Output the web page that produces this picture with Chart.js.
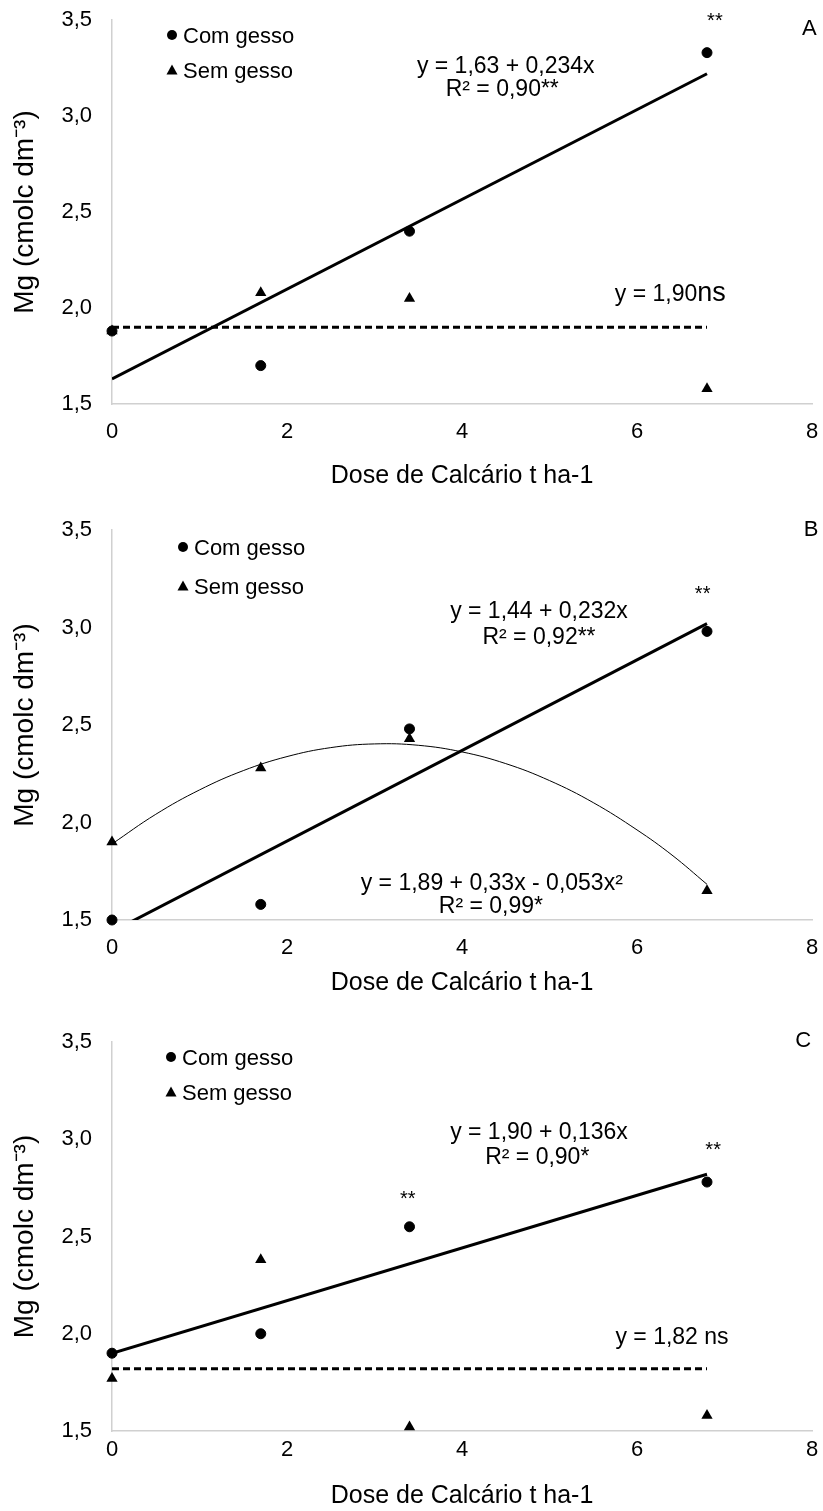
<!DOCTYPE html>
<html><head><meta charset="utf-8">
<script src="https://cdn.jsdelivr.net/npm/chart.js@4.4.0/dist/chart.umd.min.js"></script>
<style>
html,body{margin:0;padding:0;background:#fff;}
body{width:823px;height:1511px;position:relative;overflow:hidden;}
canvas{position:absolute;left:0;}
</style></head><body>
<canvas id="cA" width="823" height="500" style="top:0px"></canvas>
<canvas id="cB" width="823" height="490" style="top:510px"></canvas>
<canvas id="cC" width="823" height="489" style="top:1022px"></canvas>
<script>
const FONT = '"Liberation Sans", Arial, sans-serif';
const doses = [0, 1.7, 3.4, 6.8];
const xTickLabels = ['0', '2', '4', '6', '8'];
const yTickLabels = ['1,5', '2,0', '2,5', '3,0', '3,5'];
const seriesNames = ['Com gesso', 'Sem gesso'];
const xTitle = 'Dose de Calcário t ha-1';
const yTitle = 'Mg (cmolc dm⁻³)';

// Panel A
const comA = [1.88, 1.70, 2.40, 3.33];
const semA = [1.88, 2.08, 2.05, 1.58];
const fitAx = [0, 6.8];
const fitAcom = [1.63, 3.22];
const fitAsem = [1.90, 1.90];

// Panel B
const comB = [1.50, 1.58, 2.48, 2.98];
const semB = [1.90, 2.28, 2.43, 1.65];
const fitBx = [0, 6.8];
const fitBcom = [1.44, 3.02];
const curveBx = [0, 0.5, 1, 1.5, 2, 2.5, 3, 3.5, 4, 4.5, 5, 5.5, 6, 6.4, 6.8];
const curveBsem = [1.890, 2.042, 2.167, 2.266, 2.338, 2.384, 2.403, 2.396, 2.362, 2.302, 2.215, 2.102, 1.962, 1.833, 1.683];

// Panel C
const comC = [1.90, 2.00, 2.55, 2.78];
const semC = [1.77, 2.38, 1.52, 1.58];
const fitCx = [0, 6.8];
const fitCcom = [1.90, 2.82];
const fitCsem = [1.82, 1.82];

const pts = (xs, ys) => xs.map((x, i) => ({x: x, y: ys[i]}));

const overlayPlugin = {
  id: 'overlay',
  afterDatasetsDraw(chart, args, opts) {
    const ctx = chart.ctx;
    const xs = chart.scales.x, ys = chart.scales.y;
    const area = chart.chartArea;
    ctx.save();
    ctx.fillStyle = '#000';
    (opts.items || []).forEach(it => {
      let total = 0;
      it.parts.forEach(p => {
        ctx.font = p.size + 'px ' + FONT;
        p.w = ctx.measureText(p.t).width;
        total += p.w;
      });
      let px = xs.getPixelForValue(it.x) - total / 2;
      const base = ys.getPixelForValue(it.y) + 0.358 * it.parts[0].size;
      it.parts.forEach(p => {
        ctx.font = p.size + 'px ' + FONT;
        ctx.textAlign = 'left';
        ctx.textBaseline = 'alphabetic';
        ctx.fillText(p.t, px, base);
        px += p.w;
      });
    });
    const lg = opts.legend;
    if (lg) {
      const mx = area.left + lg.dx;
      seriesNames.forEach((name, i) => {
        const my = area.top + lg.dy + i * lg.gap;
        ctx.beginPath();
        if (i === 0) {
          ctx.arc(mx, my, 5, 0, Math.PI * 2);
        } else {
          ctx.moveTo(mx, my - 5.5);
          ctx.lineTo(mx + 5.5, my + 4.5);
          ctx.lineTo(mx - 5.5, my + 4.5);
          ctx.closePath();
        }
        ctx.fill();
        ctx.font = '22px ' + FONT;
        ctx.textAlign = 'left';
        ctx.textBaseline = 'alphabetic';
        ctx.fillText(name, mx + 11, my + 8);
      });
    }
    ctx.restore();
  }
};

function makeChart(id, cfg) {
  const datasets = [
    {label: seriesNames[0], data: pts(doses, cfg.com), pointStyle: 'circle', pointRadius: 5,
     backgroundColor: '#000', borderColor: '#000', pointBorderWidth: 1, showLine: false, clip: false, order: 0},
    {label: seriesNames[1], data: pts(doses, cfg.sem), pointStyle: 'triangle', pointRadius: 6.5,
     backgroundColor: '#000', borderColor: '#000', pointBorderWidth: 0, showLine: false, clip: false, order: 0}
  ];
  cfg.fits.forEach(f => {
    datasets.push({label: 'fit', data: pts(f.x, f.y), showLine: true, pointRadius: 0,
      borderColor: '#000', backgroundColor: '#000', borderWidth: f.w, borderDash: f.dash || [],
      tension: f.curve ? 0.4 : 0, order: 1});
  });
  return new Chart(document.getElementById(id), {
    type: 'scatter',
    data: {datasets: datasets},
    plugins: [overlayPlugin],
    options: {
      responsive: false,
      maintainAspectRatio: false,
      devicePixelRatio: 1,
      animation: false,
      events: [],
      layout: {padding: {top: 20, left: 0, right: 11, bottom: 0}},
      plugins: {
        legend: {display: false},
        tooltip: {enabled: false},
        overlay: {items: cfg.items, legend: cfg.legend}
      },
      scales: {
        x: {
          type: 'linear', min: 0, max: 8,
          ticks: {stepSize: 2, padding: cfg.xTickPad, color: '#000', font: {size: 22, family: FONT},
                  callback: (v, i) => xTickLabels[i]},
          grid: {display: false, drawTicks: false},
          border: {display: true, color: '#d0d0d0', width: 1.5},
          title: {display: true, text: xTitle, color: '#000', font: {size: 25, family: FONT},
                  padding: {top: 0, bottom: cfg.xTitlePad}},
          afterFit: s => { s.height = cfg.xH; s.paddingLeft = 0; s.paddingRight = 0; }
        },
        y: {
          type: 'linear', min: 1.5, max: 3.5,
          ticks: {stepSize: 0.5, padding: 20, color: '#000', font: {size: 22, family: FONT},
                  callback: (v, i) => yTickLabels[i]},
          grid: {display: false, drawTicks: false},
          border: {display: true, color: '#d0d0d0', width: 1.5},
          title: {display: true, text: yTitle, color: '#000', font: {size: 28, family: FONT},
                  padding: {top: 8, bottom: 0}},
          afterFit: s => { s.width = 112; s.paddingTop = 0; s.paddingBottom = 0; }
        }
      }
    }
  });
}

makeChart('cA', {
  com: comA, sem: semA,
  fits: [
    {x: fitAx, y: fitAcom, w: 3},
    {x: fitAx, y: fitAsem, w: 3, dash: [7, 4]}
  ],
  xH: 96, xTickPad: 15, xTitlePad: 9,
  legend: {dx: 60, dy: 15, gap: 35},
  items: [
    {x: 6.89, y: 3.50, parts: [{t: '**', size: 20}]},
    {x: 7.97, y: 3.464, parts: [{t: 'A', size: 22}]},
    {x: 4.50, y: 3.266, parts: [{t: 'y = 1,63 + 0,234x', size: 23}]},
    {x: 4.46, y: 3.146, parts: [{t: 'R² = 0,90**', size: 23}]},
    {x: 6.38, y: 2.078, parts: [{t: 'y = 1,90', size: 23}, {t: 'ns', size: 27}]}
  ]
});

makeChart('cB', {
  com: comB, sem: semB,
  fits: [
    {x: fitBx, y: fitBcom, w: 3},
    {x: curveBx, y: curveBsem, w: 1, curve: true}
  ],
  xH: 80, xTickPad: 15, xTitlePad: 2,
  legend: {dx: 71, dy: 17, gap: 39},
  items: [
    {x: 7.99, y: 3.51, parts: [{t: 'B', size: 22}]},
    {x: 6.75, y: 3.177, parts: [{t: '**', size: 20}]},
    {x: 4.88, y: 3.09, parts: [{t: 'y = 1,44 + 0,232x', size: 23}]},
    {x: 4.88, y: 2.96, parts: [{t: 'R² = 0,92**', size: 23}]},
    {x: 4.34, y: 1.695, parts: [{t: 'y = 1,89 + 0,33x - 0,053x²', size: 23}]},
    {x: 4.33, y: 1.577, parts: [{t: 'R² = 0,99*', size: 23}]}
  ]
});

makeChart('cC', {
  com: comC, sem: semC,
  fits: [
    {x: fitCx, y: fitCcom, w: 3},
    {x: fitCx, y: fitCsem, w: 3, dash: [7, 4]}
  ],
  xH: 80, xTickPad: 6, xTitlePad: 0,
  legend: {dx: 59, dy: 15, gap: 35},
  items: [
    {x: 7.90, y: 3.515, parts: [{t: 'C', size: 22}]},
    {x: 3.38, y: 2.698, parts: [{t: '**', size: 20}]},
    {x: 6.87, y: 2.95, parts: [{t: '**', size: 20}]},
    {x: 4.88, y: 3.042, parts: [{t: 'y = 1,90 + 0,136x', size: 23}]},
    {x: 4.86, y: 2.914, parts: [{t: 'R² = 0,90*', size: 23}]},
    {x: 6.40, y: 1.988, parts: [{t: 'y = 1,82 ns', size: 23}]}
  ]
});
</script>
</body></html>
